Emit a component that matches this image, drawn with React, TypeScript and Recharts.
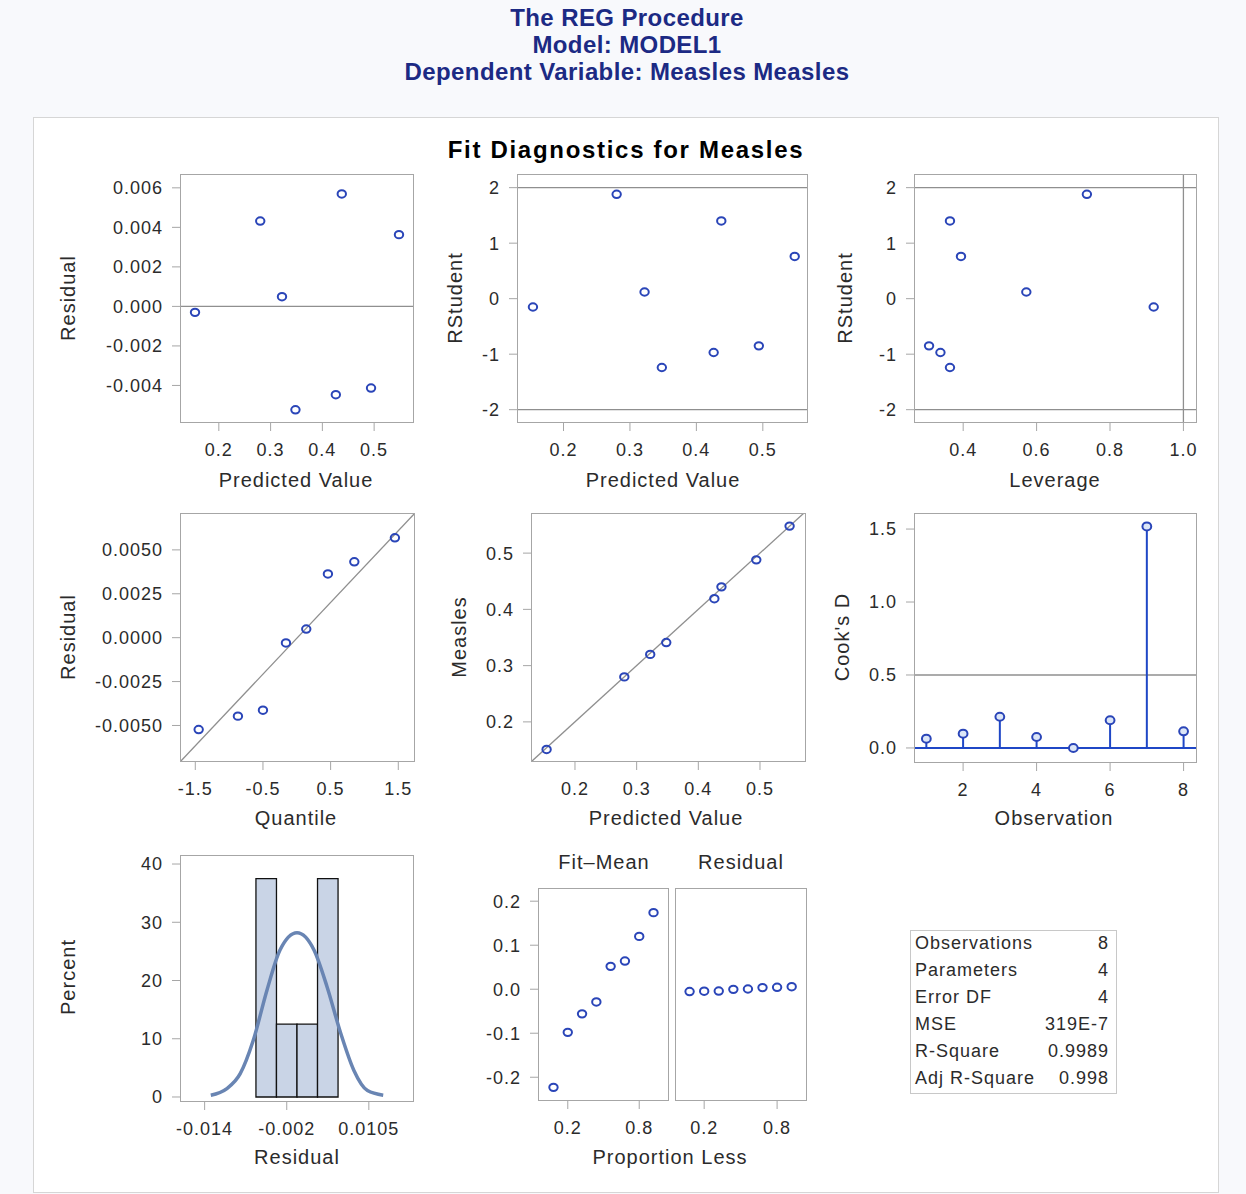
import React from 'react';
import { ComposedChart, Scatter, Line, XAxis, YAxis, ReferenceLine, ReferenceArea } from 'recharts';

const FONT = '"Liberation Sans", Arial, sans-serif';
const TEXT = '#2b2b2b';
const FRAME = '#a6a6a6';
const REF = '#8f8f8f';
const MARK = '#2a45b8';
const NEEDLE = '#1f47c6';

// per observation (obs 1..8)
const obs = [1, 2, 3, 4, 5, 6, 7, 8];
const predicted = [0.494, 0.426, 0.4375, 0.154, 0.322, 0.348, 0.28, 0.548];
const residual = [-0.00413, -0.00447, 0.00569, -0.0003, 0.00049, -0.00523, 0.00432, 0.00363];
const rstudent = [-0.85, -0.97, 1.4, -0.15, 0.12, -1.24, 1.88, 0.76];
const leverage = [0.307, 0.338, 0.364, 0.919, 0.572, 0.364, 0.737, 0.394];
const cooksD = [0.064, 0.098, 0.214, 0.075, 0.0, 0.19, 1.518, 0.114];
const measles = [0.488, 0.419, 0.44, 0.151, 0.32, 0.341, 0.28, 0.548];

// normal quantile plot
const qqQuantile = [-1.45, -0.87, -0.5, -0.16, 0.14, 0.46, 0.85, 1.45];
const qqResidual = [-0.00523, -0.00447, -0.00413, -0.0003, 0.00049, 0.00363, 0.00432, 0.00569];

// residual histogram
const binLo = [-0.006, -0.003, 0, 0.003];
const binHi = [-0.003, 0, 0.003, 0.006];
const binPercent = [37.5, 12.5, 12.5, 37.5];
const curveX = [-0.0126, -0.0103, -0.0083, -0.0064, -0.0044, -0.0025, 0, 0.0025, 0.0044, 0.0064, 0.0083, 0.0103, 0.0126];
const curveY = [0.3, 1.4, 4.0, 9.7, 18.3, 25.2, 28.2, 25.2, 18.9, 10.9, 4.6, 1.1, 0.3];
const histTicks = [-0.0135, -0.0015, 0.0105];
const histTickLabels = ['-0.014', '-0.002', '0.0105'];

// residual-fit spread plot
const propLess = [0.08, 0.2, 0.32, 0.44, 0.56, 0.68, 0.8, 0.92];
const fitMean = [-0.223, -0.098, -0.056, -0.029, 0.052, 0.064, 0.12, 0.174];
const spreadResid = [-0.00523, -0.00447, -0.00413, -0.0003, 0.00049, 0.00363, 0.00432, 0.00569];

const statLabels = ['Observations', 'Parameters', 'Error DF', 'MSE', 'R-Square', 'Adj R-Square'];
const statValues = ['8', '4', '4', '319E-7', '0.9989', '0.998'];

const YW = 110;
const XH = 50;
const tickStyle = { fontSize: 18, fill: TEXT, fontFamily: FONT, letterSpacing: 1 };

const ring = (p: any) => <ellipse cx={p.cx} cy={p.cy} rx={4.2} ry={3.7} fill="none" stroke={MARK} strokeWidth={2} />;
const cookRing = (p: any) => <ellipse cx={p.cx} cy={p.cy} rx={4.4} ry={4} fill="#dce6f7" stroke={MARK} strokeWidth={2} />;

const pts = (xs: number[], ys: number[]) => xs.map((x, i) => ({ x, y: ys[i] }));

type Frame = { x: number; y: number; w: number; h: number };

function Plot(props: any) {
  const { frame, xDomain, yDomain, xTicks, yTicks, xFmt, yFmt, data, children, hideY } = props;
  const f: Frame = frame;
  return (
    <div style={{ position: 'absolute', left: f.x - YW, top: f.y }}>
      <ComposedChart width={f.w + YW} height={f.h + XH} data={data} margin={{ top: 0, right: 0, bottom: 0, left: 0 }}>
        <XAxis type="number" dataKey="x" domain={xDomain} allowDataOverflow ticks={xTicks} interval={0}
          tickFormatter={xFmt} height={XH} axisLine={false} tickLine={{ stroke: FRAME }} tickSize={8} tickMargin={12} tick={tickStyle} />
        <YAxis type="number" dataKey="y" domain={yDomain} allowDataOverflow ticks={yTicks} interval={0}
          tickFormatter={yFmt} width={YW} axisLine={false} tickLine={hideY ? false : { stroke: FRAME }} tickSize={8} tickMargin={9}
          tick={hideY ? false : tickStyle} />
        {children}
      </ComposedChart>
      <div style={{ position: 'absolute', left: YW, top: 0, width: f.w, height: f.h, border: `1px solid ${FRAME}`, boxSizing: 'border-box', pointerEvents: 'none' }} />
    </div>
  );
}

function Label({ x, y, text, rotate }: { x: number; y: number; text: string; rotate?: boolean }) {
  return (
    <div style={{ position: 'absolute', left: x, top: y, transform: `translate(-50%, -50%)${rotate ? ' rotate(-90deg)' : ''}`,
      whiteSpace: 'nowrap', fontSize: 20, letterSpacing: 1, lineHeight: 1, color: TEXT, fontFamily: FONT }}>{text}</div>
  );
}

const f1 = (v: number) => v.toFixed(1);
const f3 = (v: number) => v.toFixed(3);
const f4 = (v: number) => v.toFixed(4);
const str = (v: number) => String(v);

export default function App() {
  return (
    <div style={{ position: 'absolute', left: 0, top: 0, width: 1246, height: 1194, background: '#f8f9fc', fontFamily: FONT, overflow: 'hidden' }}>
      <div style={{ position: 'absolute', left: 0, top: 4, width: 1254, textAlign: 'center', color: '#1c2a84', fontWeight: 'bold', fontSize: 24, letterSpacing: 0.4, lineHeight: '27px' }}>
        <div>The REG Procedure</div>
        <div>Model: MODEL1</div>
        <div>Dependent Variable: Measles Measles</div>
      </div>
      <div style={{ position: 'absolute', left: 33, top: 117, width: 1186, height: 1076, background: '#fff', border: '1px solid #d6d6d6', boxSizing: 'border-box' }} />
      <div style={{ position: 'absolute', left: 626, top: 150, transform: 'translate(-50%, -50%)', whiteSpace: 'nowrap', fontSize: 24, fontWeight: 'bold', letterSpacing: 1.7, color: '#000' }}>
        Fit Diagnostics for Measles
      </div>

      {/* row 1 */}
      <Plot frame={{ x: 180, y: 174, w: 234, h: 249 }} xDomain={[0.125, 0.577]} yDomain={[-0.0059, 0.0067]}
        xTicks={[0.2, 0.3, 0.4, 0.5]} yTicks={[-0.004, -0.002, 0, 0.002, 0.004, 0.006]} xFmt={f1} yFmt={f3}>
        <ReferenceLine y={0} stroke={REF} strokeWidth={1.3} />
        <Scatter data={pts(predicted, residual)} shape={ring} isAnimationActive={false} />
      </Plot>
      <Plot frame={{ x: 517, y: 174, w: 291, h: 249 }} xDomain={[0.13, 0.568]} yDomain={[-2.24, 2.246]}
        xTicks={[0.2, 0.3, 0.4, 0.5]} yTicks={[-2, -1, 0, 1, 2]} xFmt={f1} yFmt={str}>
        <ReferenceLine y={2} stroke={REF} strokeWidth={1.3} />
        <ReferenceLine y={-2} stroke={REF} strokeWidth={1.3} />
        <Scatter data={pts(predicted, rstudent)} shape={ring} isAnimationActive={false} />
      </Plot>
      <Plot frame={{ x: 914, y: 174, w: 283, h: 249 }} xDomain={[0.266, 1.037]} yDomain={[-2.24, 2.246]}
        xTicks={[0.4, 0.6, 0.8, 1.0]} yTicks={[-2, -1, 0, 1, 2]} xFmt={f1} yFmt={str}>
        <ReferenceLine y={2} stroke={REF} strokeWidth={1.3} />
        <ReferenceLine y={-2} stroke={REF} strokeWidth={1.3} />
        <ReferenceLine x={1.0} stroke={REF} strokeWidth={1.3} />
        <Scatter data={pts(leverage, rstudent)} shape={ring} isAnimationActive={false} />
      </Plot>

      {/* row 2 */}
      <Plot frame={{ x: 180, y: 513, w: 235, h: 249 }} xDomain={[-1.726, 1.747]} yDomain={[-0.00708, 0.0071]}
        xTicks={[-1.5, -0.5, 0.5, 1.5]} yTicks={[-0.005, -0.0025, 0, 0.0025, 0.005]} xFmt={f1} yFmt={f4}>
        <ReferenceLine segment={[{ x: -1.726, y: -0.00708 }, { x: 1.747, y: 0.0071 }]} stroke={REF} strokeWidth={1.3} ifOverflow="hidden" />
        <Scatter data={pts(qqQuantile, qqResidual)} shape={ring} isAnimationActive={false} />
      </Plot>
      <Plot frame={{ x: 531, y: 513, w: 275, h: 249 }} xDomain={[0.1287, 0.5746]} yDomain={[0.1287, 0.5713]}
        xTicks={[0.2, 0.3, 0.4, 0.5]} yTicks={[0.2, 0.3, 0.4, 0.5]} xFmt={f1} yFmt={f1}>
        <ReferenceLine segment={[{ x: 0.1287, y: 0.1287 }, { x: 0.5713, y: 0.5713 }]} stroke={REF} strokeWidth={1.3} ifOverflow="hidden" />
        <Scatter data={pts(predicted, measles)} shape={ring} isAnimationActive={false} />
      </Plot>
      <Plot frame={{ x: 914, y: 513, w: 283, h: 250 }} xDomain={[0.664, 8.365]} yDomain={[-0.103, 1.61]}
        xTicks={[2, 4, 6, 8]} yTicks={[0, 0.5, 1.0, 1.5]} xFmt={str} yFmt={f1}>
        <ReferenceLine y={0.5} stroke={REF} strokeWidth={1.3} />
        <ReferenceLine y={0} stroke={NEEDLE} strokeWidth={2} />
        {obs.map((o, i) => (
          <ReferenceLine key={o} segment={[{ x: o, y: 0 }, { x: o, y: cooksD[i] }]} stroke={NEEDLE} strokeWidth={2} />
        ))}
        <Scatter data={pts(obs, cooksD)} shape={cookRing} isAnimationActive={false} />
      </Plot>

      {/* row 3 */}
      <Plot frame={{ x: 180, y: 855, w: 234, h: 247 }} xDomain={[-0.0171, 0.0171]} yDomain={[-0.86, 41.55]}
        xTicks={histTicks} yTicks={[0, 10, 20, 30, 40]} xFmt={(v: number, i: number) => histTickLabels[i]} yFmt={str}
        data={pts(curveX, curveY)}>
        {binLo.map((lo, i) => (
          <ReferenceArea key={i} x1={lo} x2={binHi[i]} y1={0} y2={binPercent[i]} fill="#c9d4e6" fillOpacity={1} stroke="#111" strokeWidth={1.3} />
        ))}
        <Line dataKey="y" type="monotone" stroke="#6985b3" strokeWidth={3.5} dot={false} isAnimationActive={false} />
      </Plot>
      <Plot frame={{ x: 538, y: 888, w: 131, h: 213 }} xDomain={[-0.05, 1.05]} yDomain={[-0.254, 0.23]}
        xTicks={[0.2, 0.8]} yTicks={[-0.2, -0.1, 0, 0.1, 0.2]} xFmt={f1} yFmt={f1}>
        <Scatter data={pts(propLess, fitMean)} shape={ring} isAnimationActive={false} />
      </Plot>
      <Plot frame={{ x: 675, y: 888, w: 132, h: 213 }} xDomain={[-0.04, 1.046]} yDomain={[-0.254, 0.23]}
        xTicks={[0.2, 0.8]} yTicks={[-0.2, -0.1, 0, 0.1, 0.2]} xFmt={f1} yFmt={f1} hideY>
        <Scatter data={pts(propLess, spreadResid)} shape={ring} isAnimationActive={false} />
      </Plot>

      {/* stats table */}
      <div style={{ position: 'absolute', left: 910, top: 930, width: 207, height: 164, border: '1px solid #c8c8c8', boxSizing: 'border-box', background: '#fff' }}>
        {statLabels.map((l, i) => (
          <div key={l} style={{ position: 'absolute', left: 4, right: 7, top: i * 27 - 1, height: 27, lineHeight: '27px', fontSize: 18, letterSpacing: 1, color: TEXT, display: 'flex', justifyContent: 'space-between' }}>
            <span>{l}</span><span>{statValues[i]}</span>
          </div>
        ))}
      </div>

      <Label x={68} y={298} text="Residual" rotate />
      <Label x={296} y={480} text="Predicted Value" />
      <Label x={455} y={298} text="RStudent" rotate />
      <Label x={663} y={480} text="Predicted Value" />
      <Label x={845} y={298} text="RStudent" rotate />
      <Label x={1055} y={480} text="Leverage" />
      <Label x={68} y={637} text="Residual" rotate />
      <Label x={296} y={818} text="Quantile" />
      <Label x={459} y={637} text="Measles" rotate />
      <Label x={666} y={818} text="Predicted Value" />
      <Label x={842} y={637} text="Cook's D" rotate />
      <Label x={1054} y={818} text="Observation" />
      <Label x={68} y={977} text="Percent" rotate />
      <Label x={297} y={1157} text="Residual" />
      <Label x={604} y={862} text="Fit–Mean" />
      <Label x={741} y={862} text="Residual" />
      <Label x={670} y={1157} text="Proportion Less" />
    </div>
  );
}
